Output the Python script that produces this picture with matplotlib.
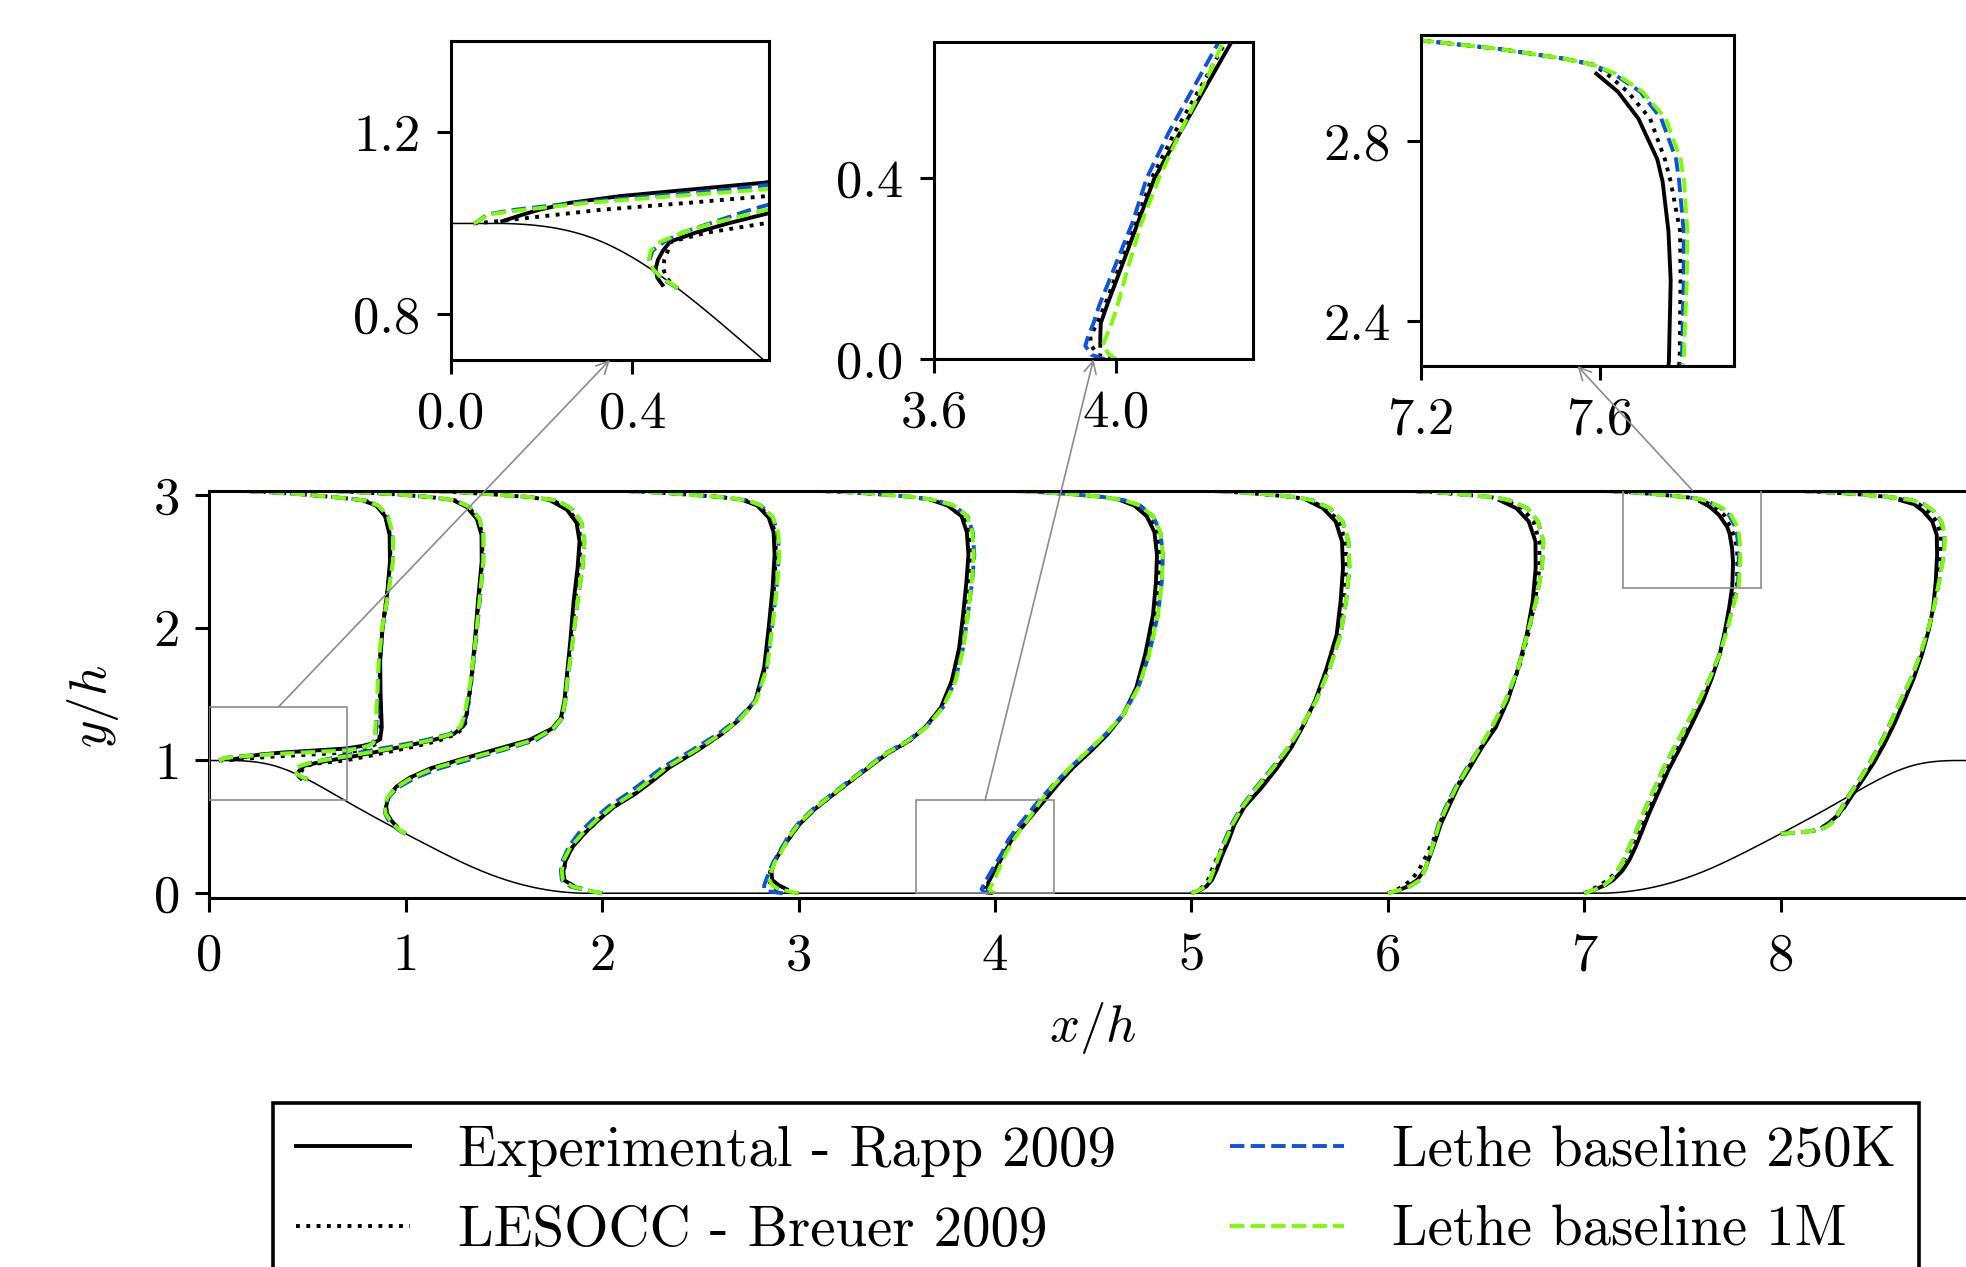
import numpy as np
import matplotlib
matplotlib.use("Agg")
import matplotlib.pyplot as plt
from matplotlib.patches import Rectangle, ConnectionPatch
from matplotlib.ticker import FixedLocator, FormatStrFormatter

nan = np.nan

# measurement stations x/h
stations = [0.05, 0.5, 1.0, 2.0, 3.0, 4.0, 5.0, 6.0, 7.0, 8.0]

# y/h levels read along each profile
y_levels = [
    [1.0, 1.005, 1.02, 1.03, 1.045, 1.06, 1.075, 1.09, 1.11, 1.13, 1.16, 1.25, 1.5, 1.75, 2.0, 2.25, 2.5, 2.7, 2.84, 2.92, 2.96, 2.985, 3.005, 3.024, 3.036],
    [0.857, 0.865, 0.88, 0.90, 0.92, 0.94, 0.96, 0.98, 1.0, 1.03, 1.07, 1.11, 1.15, 1.2, 1.26, 1.35, 1.6, 1.9, 2.2, 2.5, 2.7, 2.82, 2.91, 2.96, 2.985, 3.005, 3.024, 3.036],
    [0.448, 0.47, 0.50, 0.55, 0.6, 0.65, 0.72, 0.8, 0.87, 0.94, 1.0, 1.08, 1.155, 1.24, 1.32, 1.45, 1.6, 1.9, 2.2, 2.45, 2.65, 2.79, 2.89, 2.96, 2.985, 3.005, 3.024, 3.036],
    [0.0, 0.02, 0.05, 0.1, 0.17, 0.25, 0.35, 0.45, 0.55, 0.65, 0.75, 0.85, 0.95, 1.08, 1.2, 1.31, 1.45, 1.7, 2.0, 2.3, 2.55, 2.72, 2.83, 2.92, 2.96, 2.985, 3.005, 3.024, 3.036],
    [0.0, 0.015, 0.03, 0.06, 0.1, 0.16, 0.23, 0.32, 0.42, 0.52, 0.63, 0.73, 0.85, 0.95, 1.05, 1.15, 1.25, 1.4, 1.6, 1.85, 2.1, 2.35, 2.55, 2.72, 2.84, 2.92, 2.96, 2.985, 3.005, 3.024, 3.036],
    [0.0, 0.01, 0.03, 0.05, 0.08, 0.12, 0.2, 0.3, 0.4, 0.5, 0.6, 0.7, 0.82, 0.95, 1.08, 1.2, 1.35, 1.55, 1.8, 2.1, 2.35, 2.55, 2.72, 2.84, 2.92, 2.96, 2.985, 3.005, 3.024, 3.036],
    [0.0, 0.02, 0.05, 0.1, 0.18, 0.28, 0.4, 0.52, 0.65, 0.8, 0.95, 1.1, 1.25, 1.45, 1.7, 1.95, 2.2, 2.45, 2.65, 2.8, 2.9, 2.96, 2.985, 3.005, 3.024, 3.036],
    [0.0, 0.02, 0.05, 0.1, 0.18, 0.28, 0.4, 0.52, 0.65, 0.8, 0.95, 1.1, 1.25, 1.45, 1.7, 1.95, 2.2, 2.45, 2.65, 2.8, 2.9, 2.96, 2.985, 3.005, 3.024, 3.036],
    [0.0, 0.025, 0.06, 0.1, 0.17, 0.25, 0.35, 0.45, 0.6, 0.75, 0.93, 1.1, 1.28, 1.45, 1.62, 1.8, 1.98, 2.15, 2.31, 2.49, 2.6, 2.71, 2.76, 2.85, 2.91, 2.95, 2.97, 2.983, 3.005, 3.024, 3.036],
    [0.448, 0.455, 0.465, 0.48, 0.5, 0.53, 0.58, 0.65, 0.75, 0.86, 0.98, 1.13, 1.28, 1.45, 1.62, 1.8, 1.98, 2.15, 2.35, 2.55, 2.7, 2.8, 2.88, 2.93, 2.96, 2.985, 3.005, 3.024, 3.036],
]

# profile position x/h + u (as drawn) -- Experimental, Rapp 2009
x_exp = [
    [nan, 0.113, 0.16, 0.194, 0.26, 0.372, 0.533, 0.694, 0.78, 0.835, 0.870, 0.878, 0.872, 0.870, 0.882, 0.905, 0.920, 0.918, 0.895, 0.85, 0.78, nan, nan, nan, nan],
    [nan, 0.466, 0.455, 0.451, 0.456, 0.467, 0.483, 0.54, 0.61, 0.73, 0.87, 1.0, 1.13, 1.245, 1.294, 1.31, 1.333, 1.352, 1.368, 1.387, 1.386, 1.362, 1.31, 1.243, nan, nan, nan, nan],
    [nan, nan, 0.955, 0.925, 0.905, 0.9, 0.91, 0.95, 1.02, 1.125, 1.26, 1.45, 1.63, 1.745, 1.79, 1.808, 1.818, 1.838, 1.855, 1.875, 1.885, 1.87, 1.82, 1.735, nan, nan, nan, nan],
    [nan, nan, 1.86, 1.805, 1.803, 1.815, 1.85, 1.91, 1.98, 2.06, 2.17, 2.26, 2.345, 2.49, 2.61, 2.70, 2.78, 2.825, 2.848, 2.868, 2.878, 2.873, 2.848, 2.79, 2.72, nan, nan, nan, nan],
    [nan, nan, 2.94, 2.90, 2.866, 2.862, 2.875, 2.91, 2.955, 3.005, 3.08, 3.165, 3.27, 3.36, 3.45, 3.565, 3.645, 3.725, 3.78, 3.818, 3.838, 3.855, 3.865, 3.857, 3.83, 3.76, 3.68, nan, nan, nan, nan],
    [nan, nan, 3.965, 3.965, 3.966, 3.98, 4.01, 4.047, 4.084, 4.14, 4.196, 4.253, 4.32, 4.40, 4.495, 4.575, 4.655, 4.72, 4.765, 4.805, 4.82, 4.825, 4.812, 4.773, 4.71, 4.64, nan, nan, nan, nan],
    [nan, 5.04, 5.075, 5.105, 5.13, 5.155, 5.19, 5.22, 5.27, 5.36, 5.44, 5.51, 5.565, 5.63, 5.69, 5.74, 5.76, 5.772, 5.767, 5.735, 5.67, 5.59, nan, nan, nan, nan],
    [nan, 6.05, 6.10, 6.15, 6.19, 6.215, 6.243, 6.27, 6.31, 6.357, 6.42, 6.48, 6.55, 6.61, 6.665, 6.708, 6.738, 6.753, 6.752, 6.718, 6.655, 6.57, nan, nan, nan, nan],
    [nan, 7.05, 7.105, 7.148, 7.195, 7.23, 7.262, 7.29, 7.33, 7.375, 7.43, 7.49, 7.55, 7.605, 7.65, 7.69, 7.717, 7.738, 7.754, 7.758, 7.753, 7.74, 7.728, 7.686, 7.64, 7.592, nan, nan, nan, nan, nan],
    [nan, nan, nan, nan, 8.215, 8.245, 8.285, 8.325, 8.37, 8.42, 8.473, 8.53, 8.58, 8.63, 8.678, 8.72, 8.754, 8.777, 8.79, 8.797, 8.795, 8.772, 8.725, 8.68, 8.61, nan, nan, nan, nan],
]

# LESOCC, Breuer 2009
x_les = [
    [0.05, 0.105, 0.24, 0.33, 0.52, 0.694, 0.76, 0.80, 0.83, 0.855, 0.865, 0.872, 0.868, 0.868, 0.882, 0.905, 0.922, 0.92, 0.898, 0.855, 0.79, 0.63, 0.47, 0.27, 0.05],
    [0.5, 0.49, 0.475, 0.468, 0.47, 0.478, 0.485, 0.565, 0.69, 0.80, 0.93, 1.06, 1.17, 1.26, 1.30, 1.312, 1.335, 1.355, 1.37, 1.39, 1.39, 1.37, 1.32, 1.25, 1.12, 0.95, 0.72, 0.5],
    [1.0, 0.975, 0.955, 0.925, 0.905, 0.9, 0.912, 0.955, 1.03, 1.135, 1.27, 1.46, 1.64, 1.75, 1.795, 1.812, 1.82, 1.842, 1.862, 1.882, 1.892, 1.877, 1.83, 1.75, 1.62, 1.44, 1.23, 1.0],
    [2.0, 1.93, 1.86, 1.808, 1.805, 1.815, 1.85, 1.91, 1.98, 2.06, 2.165, 2.255, 2.34, 2.485, 2.61, 2.70, 2.78, 2.83, 2.855, 2.875, 2.885, 2.88, 2.855, 2.80, 2.73, 2.6, 2.42, 2.22, 2.0],
    [3.0, 2.93, 2.885, 2.86, 2.85, 2.855, 2.872, 2.91, 2.955, 3.005, 3.08, 3.165, 3.27, 3.358, 3.45, 3.567, 3.645, 3.728, 3.785, 3.825, 3.847, 3.866, 3.876, 3.868, 3.84, 3.775, 3.69, 3.58, 3.42, 3.22, 3.0],
    [3.99, 3.96, 3.945, 3.943, 3.958, 3.975, 4.005, 4.043, 4.078, 4.128, 4.185, 4.24, 4.312, 4.395, 4.49, 4.572, 4.655, 4.725, 4.775, 4.815, 4.833, 4.838, 4.825, 4.787, 4.725, 4.65, 4.55, 4.4, 4.2, 4.0],
    [5.0, 5.03, 5.06, 5.085, 5.105, 5.135, 5.175, 5.215, 5.265, 5.345, 5.43, 5.505, 5.565, 5.632, 5.698, 5.75, 5.775, 5.79, 5.785, 5.752, 5.688, 5.6, 5.52, 5.37, 5.2, 5.0],
    [6.0, 6.035, 6.075, 6.12, 6.16, 6.195, 6.232, 6.262, 6.3, 6.35, 6.412, 6.475, 6.543, 6.607, 6.668, 6.715, 6.75, 6.772, 6.772, 6.742, 6.685, 6.6, 6.52, 6.37, 6.2, 6.0],
    [7.0, 7.035, 7.08, 7.12, 7.17, 7.205, 7.24, 7.27, 7.313, 7.36, 7.415, 7.475, 7.54, 7.597, 7.647, 7.69, 7.722, 7.75, 7.778, 7.78, 7.779, 7.758, 7.745, 7.712, 7.662, 7.615, 7.585, 7.522, 7.375, 7.2, 7.0],
    [8.0, 8.07, 8.14, 8.2, 8.228, 8.258, 8.29, 8.325, 8.365, 8.415, 8.467, 8.522, 8.572, 8.622, 8.672, 8.717, 8.752, 8.778, 8.8, 8.815, 8.815, 8.795, 8.75, 8.705, 8.64, 8.55, 8.4, 8.2, 8.0],
]

# Lethe baseline 250K
x_250k = [
    [0.05, 0.06, 0.08, 0.14, 0.27, 0.44, 0.62, 0.74, 0.80, 0.83, 0.845, 0.85, 0.858, 0.865, 0.882, 0.91, 0.933, 0.933, 0.908, 0.86, 0.79, 0.63, 0.47, 0.27, 0.05],
    [0.5, 0.488, 0.462, 0.445, 0.438, 0.444, 0.47, 0.51, 0.57, 0.66, 0.80, 0.95, 1.09, 1.225, 1.285, 1.305, 1.333, 1.357, 1.377, 1.395, 1.395, 1.375, 1.325, 1.25, 1.12, 0.95, 0.72, 0.5],
    [1.0, 0.97, 0.945, 0.912, 0.895, 0.893, 0.91, 0.965, 1.05, 1.17, 1.31, 1.50, 1.665, 1.755, 1.797, 1.813, 1.823, 1.85, 1.875, 1.9, 1.91, 1.895, 1.85, 1.77, 1.63, 1.44, 1.23, 1.0],
    [2.0, 1.92, 1.84, 1.795, 1.79, 1.80, 1.83, 1.88, 1.95, 2.03, 2.13, 2.22, 2.31, 2.46, 2.59, 2.69, 2.78, 2.838, 2.865, 2.888, 2.9, 2.895, 2.868, 2.81, 2.74, 2.6, 2.42, 2.22, 2.0],
    [2.92, 2.84, 2.825, 2.825, 2.835, 2.85, 2.87, 2.905, 2.945, 2.995, 3.07, 3.155, 3.26, 3.35, 3.44, 3.555, 3.648, 3.735, 3.797, 3.838, 3.862, 3.884, 3.895, 3.887, 3.86, 3.79, 3.70, 3.58, 3.42, 3.22, 3.0],
    [3.975, 3.945, 3.932, 3.938, 3.95, 3.963, 3.995, 4.035, 4.067, 4.115, 4.17, 4.225, 4.30, 4.385, 4.48, 4.565, 4.655, 4.73, 4.785, 4.83, 4.85, 4.855, 4.842, 4.805, 4.74, 4.66, 4.55, 4.4, 4.2, 4.0],
    [5.0, 5.035, 5.07, 5.095, 5.115, 5.14, 5.17, 5.205, 5.255, 5.33, 5.415, 5.495, 5.56, 5.635, 5.705, 5.76, 5.788, 5.805, 5.8, 5.77, 5.705, 5.615, 5.53, 5.38, 5.2, 5.0],
    [6.0, 6.05, 6.11, 6.165, 6.19, 6.213, 6.236, 6.258, 6.295, 6.345, 6.405, 6.47, 6.53, 6.60, 6.665, 6.71, 6.755, 6.785, 6.792, 6.765, 6.71, 6.62, 6.53, 6.38, 6.2, 6.0],
    [7.0, 7.05, 7.1, 7.135, 7.17, 7.2, 7.23, 7.26, 7.3, 7.345, 7.4, 7.46, 7.525, 7.585, 7.64, 7.688, 7.725, 7.755, 7.783, 7.787, 7.787, 7.777, 7.77, 7.737, 7.69, 7.63, 7.585, 7.522, 7.375, 7.2, 7.0],
    [8.0, 8.07, 8.14, 8.195, 8.228, 8.258, 8.283, 8.313, 8.353, 8.403, 8.453, 8.508, 8.558, 8.61, 8.665, 8.712, 8.75, 8.78, 8.807, 8.83, 8.835, 8.818, 8.778, 8.73, 8.67, 8.56, 8.41, 8.2, 8.0],
]

# Lethe baseline 1M
x_1m = [
    [0.05, 0.06, 0.083, 0.16, 0.30, 0.49, 0.694, 0.76, 0.81, 0.835, 0.843, 0.845, 0.855, 0.862, 0.88, 0.91, 0.935, 0.935, 0.91, 0.86, 0.79, 0.63, 0.47, 0.27, 0.05],
    [0.5, 0.49, 0.465, 0.445, 0.436, 0.44, 0.462, 0.51, 0.575, 0.694, 0.85, 0.99, 1.12, 1.235, 1.28, 1.30, 1.33, 1.355, 1.375, 1.395, 1.395, 1.375, 1.325, 1.25, 1.12, 0.95, 0.72, 0.5],
    [1.0, 0.975, 0.952, 0.92, 0.898, 0.893, 0.905, 0.955, 1.03, 1.14, 1.28, 1.48, 1.65, 1.75, 1.795, 1.812, 1.822, 1.85, 1.875, 1.9, 1.91, 1.895, 1.85, 1.77, 1.63, 1.44, 1.23, 1.0],
    [2.0, 1.93, 1.85, 1.80, 1.795, 1.805, 1.84, 1.90, 1.97, 2.05, 2.155, 2.245, 2.33, 2.48, 2.605, 2.70, 2.785, 2.84, 2.866, 2.89, 2.902, 2.897, 2.87, 2.81, 2.74, 2.6, 2.42, 2.22, 2.0],
    [3.0, 2.95, 2.90, 2.865, 2.852, 2.86, 2.878, 2.915, 2.95, 3.0, 3.075, 3.16, 3.265, 3.355, 3.445, 3.56, 3.65, 3.735, 3.8, 3.84, 3.862, 3.882, 3.892, 3.885, 3.858, 3.79, 3.70, 3.58, 3.42, 3.22, 3.0],
    [4.0, 3.985, 3.97, 3.978, 3.99, 4.003, 4.025, 4.055, 4.094, 4.14, 4.19, 4.235, 4.305, 4.385, 4.48, 4.565, 4.655, 4.73, 4.785, 4.83, 4.85, 4.855, 4.842, 4.805, 4.74, 4.66, 4.55, 4.4, 4.2, 4.0],
    [5.0, 5.035, 5.07, 5.095, 5.115, 5.14, 5.175, 5.21, 5.26, 5.335, 5.42, 5.495, 5.56, 5.635, 5.705, 5.76, 5.788, 5.805, 5.8, 5.77, 5.705, 5.615, 5.53, 5.38, 5.2, 5.0],
    [6.0, 6.05, 6.11, 6.165, 6.19, 6.213, 6.238, 6.262, 6.30, 6.35, 6.41, 6.47, 6.53, 6.60, 6.665, 6.71, 6.755, 6.785, 6.792, 6.765, 6.71, 6.62, 6.53, 6.38, 6.2, 6.0],
    [7.0, 7.05, 7.1, 7.135, 7.17, 7.2, 7.23, 7.26, 7.3, 7.345, 7.4, 7.46, 7.525, 7.585, 7.64, 7.69, 7.727, 7.757, 7.787, 7.794, 7.795, 7.788, 7.78, 7.747, 7.695, 7.635, 7.585, 7.522, 7.375, 7.2, 7.0],
    [8.0, 8.07, 8.14, 8.2, 8.232, 8.26, 8.285, 8.315, 8.355, 8.405, 8.455, 8.51, 8.56, 8.61, 8.665, 8.712, 8.75, 8.78, 8.807, 8.832, 8.837, 8.82, 8.78, 8.73, 8.67, 8.56, 8.41, 8.2, 8.0],
]

# periodic hill wall: piecewise cubic in mm (h = 28 mm), left hill, mirrored on the right
hill_breaks = [0, 9, 14, 20, 30, 40, 54]
hill_coeffs = [
    [28.0, 0.0, 6.775070969851e-3, -2.124527775800e-3],
    [25.07355893131, 0.9754803562315, -0.1016116352781, 1.889794677828e-3],
    [25.79601052357, 0.8206693007457, -0.09055370274339, 1.626510569859e-3],
    [40.46435022819, -1.379581654948, 0.01945884504128, -2.070318932190e-4],
    [17.92461334664, 0.8743920332081, -0.05567361123058, 6.277731764683e-4],
    [56.39011190988, -2.010520359035, 0.01644919857549, 2.674976141766e-5],
]

# zoom windows: (xmin, xmax, ymin, ymax)
zooms = [(0.0, 0.7, 0.7, 1.4), (3.6, 4.3, 0.0, 0.7), (7.2, 7.9, 2.3, 3.036)]
zoom_xticks = [[0.0, 0.4], [3.6, 4.0], [7.2, 7.6]]
zoom_yticks = [[0.8, 1.2], [0.0, 0.4], [2.4, 2.8]]

labels = ["Experimental - Rapp 2009", "LESOCC - Breuer 2009",
          "Lethe baseline 250K", "Lethe baseline 1M"]


def hill_height(xh):
    xm = np.minimum(xh, 9.0 - xh) * 28.0
    y = np.zeros_like(xm)
    for i, c in enumerate(hill_coeffs):
        m = (xm >= hill_breaks[i]) & (xm <= hill_breaks[i + 1])
        y[m] = c[0] + c[1] * xm[m] + c[2] * xm[m] ** 2 + c[3] * xm[m] ** 3
    return np.clip(y, 0.0, 28.0) / 28.0


plt.rcParams['font.family'] = 'serif'
plt.rcParams['font.serif'] = ['cmr10']
plt.rcParams['mathtext.fontset'] = 'cm'
plt.rcParams['axes.formatter.use_mathtext'] = True
plt.rcParams['font.size'] = 38
plt.rcParams['axes.linewidth'] = 2.2

LW = 2.8
BLUE = '#0f52e0'
GREEN = '#7cfc00'
GREY = '0.55'

hill_x = np.linspace(0.0, 9.0, 1500)
hill_y = hill_height(hill_x)


def draw_profiles(ax):
    ax.plot(hill_x, hill_y, color='k', lw=1.1)
    handles = None
    for i in range(len(stations)):
        y = np.array(y_levels[i], dtype=float)
        h1, = ax.plot(np.array(x_exp[i], dtype=float), y, color='k', ls='-', lw=LW)
        h2, = ax.plot(np.array(x_les[i], dtype=float), y, color='k', ls=':', lw=LW)
        h3, = ax.plot(np.array(x_250k[i], dtype=float), y, color=BLUE, ls='--', lw=LW)
        h4, = ax.plot(np.array(x_1m[i], dtype=float), y, color=GREEN, ls='--', lw=LW)
        if handles is None:
            handles = [h1, h2, h3, h4]
    return handles


def style_ticks(ax):
    ax.tick_params(direction='out', length=10, width=2.2, pad=12)


W, H = 1966, 1267
fig = plt.figure(figsize=(W / 100, H / 100), dpi=100)

# main axes (right edge runs just past the figure, as in the original crop)
ax = fig.add_axes([209.3 / W, 1 - 898.3 / H, (1977 - 209.3) / W, (898.3 - 491) / H])
handles = draw_profiles(ax)
ax.set_xlim(0, 9)
ax.set_ylim(-0.038, 3.03)
ax.set_xticks(range(0, 10))
ax.set_xticklabels([str(v) for v in range(0, 9)] + [''])
ax.set_yticks([0, 1, 2, 3])
style_ticks(ax)
ax.tick_params(axis='x', pad=15)
ax.set_xlabel('$x/h$')
ax.set_ylabel('$y/h$')
ax.xaxis.set_label_coords(0.5, -0.25)
ax.yaxis.set_label_coords(-0.05, 0.47)

inset_boxes = [
    [451 / W, 1 - 360 / H, 317.6 / W, 318.6 / H],
    [934.3 / W, 1 - 359.3 / H, 318.4 / W, 317 / H],
    [1420.7 / W, 1 - 366 / H, 313.6 / W, 331 / H],
]

for k, (x0, x1, y0, y1) in enumerate(zooms):
    axin = fig.add_axes(inset_boxes[k])
    draw_profiles(axin)
    axin.set_xlim(x0, x1)
    axin.set_ylim(y0, y1)
    axin.xaxis.set_major_locator(FixedLocator(zoom_xticks[k]))
    axin.yaxis.set_major_locator(FixedLocator(zoom_yticks[k]))
    axin.xaxis.set_major_formatter(FormatStrFormatter('%.1f'))
    axin.yaxis.set_major_formatter(FormatStrFormatter('%.1f'))
    style_ticks(axin)

    ax.add_patch(Rectangle((x0, y0), x1 - x0, y1 - y0, fill=False,
                           edgecolor=GREY, lw=1.2, zorder=5))
    xc = 0.5 * (x0 + x1)
    con = ConnectionPatch(xyA=(xc, y1), coordsA=ax.transData,
                          xyB=(xc, y0), coordsB=axin.transData,
                          arrowstyle='->', color=GREY, lw=1.2,
                          mutation_scale=22)
    fig.add_artist(con)

leg = fig.legend(handles, labels, loc='upper left',
                 bbox_to_anchor=(273 / W, 1 - 1103 / H), ncol=2,
                 frameon=True, fancybox=False, edgecolor='k', framealpha=1,
                 borderaxespad=0, handlelength=2.0, handletextpad=0.85,
                 columnspacing=2.0, fontsize=41)
leg.get_frame().set_linewidth(2.6)

fig.savefig('out.png', dpi=100)
